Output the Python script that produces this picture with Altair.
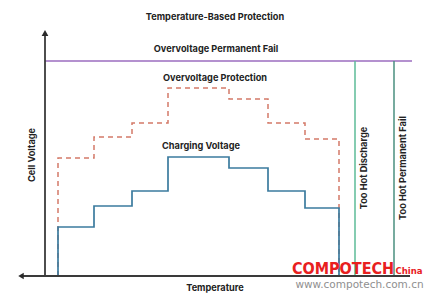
import altair as alt
import pandas as pd

# Temperature breakpoints (arbitrary units, 0 = y-axis)
temps = [13, 49, 87, 123, 184, 223, 260, 294]
# Voltage levels (arbitrary units, 0 = x-axis)
charging = [49, 70, 85, 119, 108, 85, 68]
ovp = [118, 139, 153, 188, 177, 153, 137]
ov_permanent_fail = 215
too_hot_discharge = 310
too_hot_permanent = 349

FONT = "Inter"
FS = 9.2

def step_frame(levels):
    pts = [(temps[0], 0)]
    for t, v in zip(temps[:-1], levels):
        pts.append((t, v))
    pts.append((temps[-1], levels[-1]))
    pts.append((temps[-1], 0))
    return pd.DataFrame({"t": [p[0] for p in pts], "v": [p[1] for p in pts], "i": list(range(len(pts)))})

xs = alt.Scale(domain=[-45, 387], nice=False, zero=False)
ys = alt.Scale(domain=[-20, 276], nice=False, zero=False)

def X(f="t"):
    return alt.X(f"{f}:Q", scale=xs, axis=None)

def Y(f="v"):
    return alt.Y(f"{f}:Q", scale=ys, axis=None)

charge_line = alt.Chart(step_frame(charging)).mark_line(
    interpolate="step-after", color="#3b7b9e", strokeWidth=1.7
).encode(x=X(), y=Y(), order="i:Q")

ovp_line = alt.Chart(step_frame(ovp)).mark_line(
    interpolate="step-after", color="#d47a68", strokeWidth=1.5, strokeDash=[5, 4]
).encode(x=X(), y=Y(), order="i:Q")

# horizontal permanent fail line
pf = alt.Chart(pd.DataFrame({"t": [0], "t2": [367], "v": [ov_permanent_fail]})).mark_rule(
    color="#9b6cbf", strokeWidth=1.5
).encode(x=X(), x2="t2:Q", y=Y())

# vertical temperature limits
vdf = pd.DataFrame({"t": [too_hot_discharge, too_hot_permanent], "v": [0, 0], "v2": [ov_permanent_fail] * 2,
                    "c": ["a", "b"]})
vlines = alt.Chart(vdf).mark_rule(strokeWidth=1.5).encode(
    x=X(), y=Y(), y2="v2:Q",
    color=alt.Color("c:N", scale=alt.Scale(domain=["a", "b"], range=["#5dbb97", "#4a8f7f"]), legend=None)
)

# axes
yaxis = alt.Chart(pd.DataFrame({"t": [0], "v": [0], "v2": [243]})).mark_rule(
    color="#3a3a3a", strokeWidth=1.8).encode(x=X(), y=Y(), y2="v2:Q")
xaxis = alt.Chart(pd.DataFrame({"t": [-24], "t2": [365], "v": [0]})).mark_rule(
    color="#3a3a3a", strokeWidth=1.8).encode(x=X(), x2="t2:Q", y=Y())
arrow_up = alt.Chart(pd.DataFrame({"t": [0], "v": [243]})).mark_point(
    shape="triangle-up", filled=True, color="#2a2a2a", size=45, opacity=1).encode(x=X(), y=Y())
arrow_left = alt.Chart(pd.DataFrame({"t": [-24], "v": [0]})).mark_point(
    shape="triangle-left", filled=True, color="#2a2a2a", size=40, opacity=1).encode(x=X(), y=Y())

labels = pd.DataFrame({
    "t": [170, 171, 170, 156, 170],
    "v": [259, 227, 198, 130, -12],
    "s": ["Temperature-Based Protection", "Overvoltage Permanent Fail", "Overvoltage Protection",
          "Charging Voltage", "Temperature"],
})
htext = alt.Chart(labels).mark_text(font=FONT, fontWeight="bold", fontSize=FS, color="#222222",
                                    align="center", baseline="middle").encode(x=X(), y=Y(), text="s:N")

vlabels = pd.DataFrame({
    "t": [-13, 319, 358],
    "v": [121, 108, 108],
    "s": ["Cell Voltage", "Too Hot Discharge", "Too Hot Permanent Fail"],
})
vtext = alt.Chart(vlabels).mark_text(font=FONT, fontWeight="bold", fontSize=FS, color="#222222",
                                     align="center", baseline="middle", angle=270).encode(x=X(), y=Y(), text="s:N")

wm1 = alt.Chart(pd.DataFrame({"t": [298], "v": [7], "s": ["COMPOTECH"]})).mark_text(
    font="DejaVu Sans Condensed", fontWeight="bold", fontSize=16, color="#e8201e",
    align="center", baseline="middle").encode(x=X(), y=Y(), text="s:N")
wm2 = alt.Chart(pd.DataFrame({"t": [364], "v": [5], "s": ["China"]})).mark_text(
    font="DejaVu Sans Condensed", fontWeight="bold", fontSize=9.5, color="#e8201e",
    align="center", baseline="middle").encode(x=X(), y=Y(), text="s:N")
wm3 = alt.Chart(pd.DataFrame({"t": [314.5], "v": [-9], "s": ["www.compotech.com.cn"]})).mark_text(
    font="DejaVu Sans", fontSize=10.5, color="#8f8f8f",
    align="center", baseline="middle").encode(x=X(), y=Y(), text="s:N")

chart = alt.layer(
    pf, vlines, ovp_line, charge_line, xaxis, yaxis, arrow_up, arrow_left, htext, vtext, wm1, wm2, wm3
).properties(width=432, height=296, padding=0, autosize="none", background="white").configure_view(stroke=None)

chart.save("out.html", embed_options={"renderer": "svg", "actions": False})
